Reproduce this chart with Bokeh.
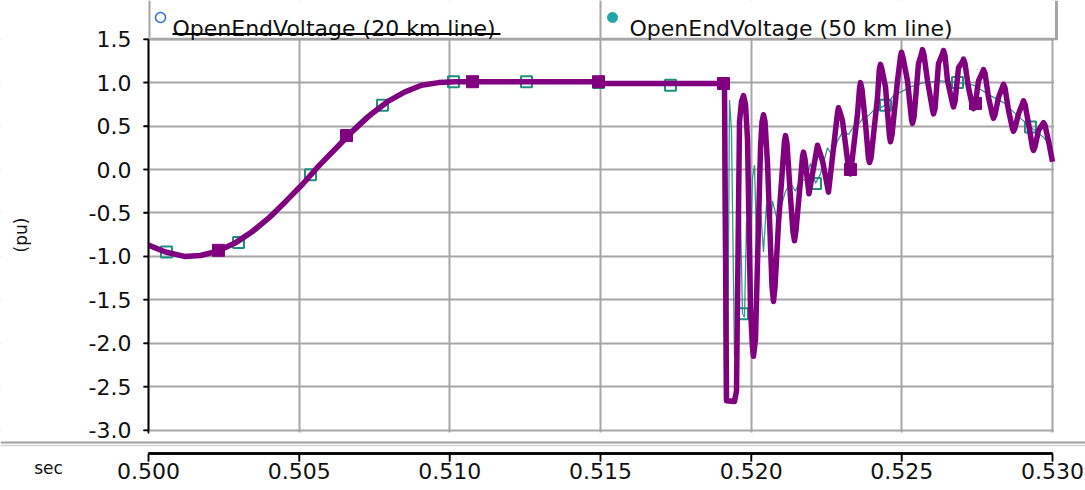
from bokeh.plotting import figure
from bokeh.models import Range1d, FixedTicker, PrintfTickFormatter
from bokeh.embed import file_html
from bokeh.resources import INLINE
from bokeh.core.properties import value

# ---------------- data (time in s, voltage in pu) ----------------
t_50km = [0.500000, 0.500564, 0.501195, 0.501726, 0.502290, 0.502854, 0.503418, 0.503982,
          0.504546, 0.505111, 0.505675, 0.506239, 0.506803, 0.507367, 0.507931, 0.508495,
          0.509059, 0.509623, 0.510187, 0.515000, 0.515066, 0.519049, 0.519115, 0.519182,
          0.519447, 0.519513, 0.519613, 0.519679, 0.519746, 0.519812, 0.519878, 0.519978,
          0.520044, 0.520077, 0.520144, 0.520310, 0.520360, 0.520409, 0.520459, 0.520542,
          0.520692, 0.520741, 0.520791, 0.520907, 0.521040, 0.521106, 0.521140, 0.521189,
          0.521305, 0.521388, 0.521438, 0.521488, 0.521637, 0.521704, 0.521737, 0.521786,
          0.521919, 0.522201, 0.522367, 0.522566, 0.522799, 0.522865, 0.522898, 0.522948,
          0.523031, 0.523230, 0.523297, 0.523529, 0.523595, 0.523628, 0.523678, 0.523794,
          0.523894, 0.523927, 0.523977, 0.524193, 0.524252, 0.524292, 0.524342, 0.524458,
          0.524591, 0.524624, 0.524674, 0.524856, 0.524956, 0.524989, 0.525039, 0.525188,
          0.525321, 0.525354, 0.525404, 0.525553, 0.525653, 0.525686, 0.525736, 0.525852,
          0.526018, 0.526051, 0.526101, 0.526217, 0.526350, 0.526383, 0.526433, 0.526516,
          0.526682, 0.526715, 0.526765, 0.526881, 0.527013, 0.527046, 0.527096, 0.527213,
          0.527346, 0.527378, 0.527428, 0.527544, 0.527677, 0.527710, 0.527760, 0.527876,
          0.528009, 0.528042, 0.528092, 0.528208, 0.528341, 0.528374, 0.528424, 0.528540,
          0.528673, 0.528706, 0.528756, 0.528872, 0.529005, 0.529038, 0.529088, 0.529204,
          0.529336, 0.529369, 0.529419, 0.529535, 0.529668, 0.529701, 0.529751, 0.529867,
          0.530000]
v_50km = [-0.87, -0.95, -1.00, -0.99, -0.94, -0.85, -0.72, -0.56,
          -0.37, -0.17, 0.05, 0.25, 0.45, 0.63, 0.78, 0.89,
          0.97, 1.00, 1.01, 1.01, 0.99, 0.99, 0.99, -2.66,
          -2.67, -2.55, 0.55, 0.78, 0.85, 0.75, 0.35, -1.60,
          -2.05, -2.15, -1.95, 0.25, 0.55, 0.63, 0.55, 0.07,
          -1.35, -1.52, -1.35, -0.62, 0.02, 0.33, 0.39, 0.30,
          -0.32, -0.72, -0.82, -0.70, -0.13, 0.15, 0.20, 0.12,
          -0.28, 0.28, 0.10, -0.26, 0.45, 0.65, 0.71, 0.66,
          0.56, 0.02, -0.05, 0.64, 0.93, 1.00, 0.92, 0.53,
          0.12, 0.08, 0.13, 0.83, 1.15, 1.21, 1.15, 0.95,
          0.38, 0.32, 0.40, 1.02, 1.30, 1.35, 1.29, 1.02,
          0.58, 0.53, 0.60, 1.22, 1.33, 1.38, 1.32, 1.02,
          0.69, 0.64, 0.70, 1.22, 1.33, 1.37, 1.31, 1.02,
          0.76, 0.72, 0.78, 1.17, 1.24, 1.27, 1.22, 0.94,
          0.73, 0.70, 0.73, 1.02, 1.12, 1.15, 1.11, 0.83,
          0.62, 0.59, 0.63, 0.83, 0.95, 0.98, 0.94, 0.68,
          0.47, 0.44, 0.48, 0.64, 0.76, 0.79, 0.75, 0.53,
          0.25, 0.22, 0.26, 0.45, 0.52, 0.54, 0.51, 0.33,
          0.09]

t_20km = [0.500000, 0.500600, 0.501200, 0.501800, 0.502400, 0.502990, 0.503590, 0.504190,
          0.504780, 0.505380, 0.505980, 0.506570, 0.507170, 0.507770, 0.508360, 0.508960,
          0.509560, 0.510120, 0.514930, 0.515000, 0.517000, 0.517320, 0.519049, 0.519115,
          0.519215, 0.519281, 0.519347, 0.519447, 0.519547, 0.519646, 0.519713, 0.519779,
          0.519845, 0.519945, 0.520044, 0.520111, 0.520210, 0.520310, 0.520409, 0.520509,
          0.520608, 0.520708, 0.520841, 0.520973, 0.521140, 0.521305, 0.521471, 0.521637,
          0.521803, 0.521969, 0.522135, 0.522301, 0.522534, 0.522700, 0.522865, 0.523064,
          0.523230, 0.523396, 0.523562, 0.523728, 0.523894, 0.524060, 0.524226, 0.524458,
          0.524723, 0.524956, 0.525288, 0.525719, 0.526283, 0.526847, 0.527378, 0.527942,
          0.528374, 0.528838, 0.529269, 0.529701, 0.530000]
v_20km = [-0.87, -0.95, -1.00, -0.99, -0.94, -0.85, -0.71, -0.53,
          -0.30, -0.06, 0.18, 0.41, 0.61, 0.76, 0.88, 0.96,
          1.00, 1.01, 1.01, 1.00, 1.00, 0.97, 0.97, -2.64,
          -2.64, 0.80, 0.45, -2.15, -1.95, -0.55, -1.66, -1.70,
          -0.60, -1.40, -0.10, 0.05, -1.25, -0.45, -0.95, -0.40,
          -0.85, -0.36, -0.55, -0.45, -0.25, -0.16, -0.25, -0.10,
          -0.13, 0.07, -0.16, -0.05, 0.25, 0.15, 0.33, 0.45,
          0.40, 0.49, 0.52, 0.60, 0.62, 0.68, 0.70, 0.74,
          0.85, 0.89, 0.95, 1.00, 1.02, 1.00, 0.97, 0.85,
          0.77, 0.62, 0.49, 0.37, 0.25]

# sample markers
mk_50km_t = [0.502323, 0.506571, 0.510752, 0.514934, 0.519082, 0.523296, 0.527444]
mk_50km_v = [-0.93, 0.39, 1.01, 1.01, 0.99, 0.00, 0.76]
mk_20km_t = [0.500597, 0.502987, 0.505376, 0.507765, 0.510122, 0.512544, 0.514934,
             0.517323, 0.519713, 0.522135, 0.524458, 0.526847, 0.529269]
mk_20km_v = [-0.95, -0.84, -0.06, 0.74, 1.01, 1.01, 1.00,
             0.97, -1.66, -0.16, 0.74, 1.00, 0.49]

x_ticks = [0.500, 0.505, 0.510, 0.515, 0.520, 0.525, 0.530]
y_ticks = [-3.0, -2.5, -2.0, -1.5, -1.0, -0.5, 0.0, 0.5, 1.0, 1.5]
legend_labels = ["OpenEndVoltage (20 km line)", "OpenEndVoltage (50 km line)"]
x_label = "sec"
y_label = "(pu)"

# ---------------- layout (canvas pixels) ----------------
FIG_W, FIG_H = 1085, 490
X0_PX, PX_PER_S = 148.0, 30133.3      # t = 0.5 s at x = 148
Y0_PX, PX_PER_PU = 169.0, 86.9        # v = 0 at y = 169
PLOT_L, PLOT_R, PLOT_T, PLOT_B = 148, 1053, 39, 432
AXIS_Y = 453


def t_at(px):
    return 0.5 + (px - X0_PX) / PX_PER_S


def v_at(py):
    return (Y0_PX - py) / PX_PER_PU


FONT = "DejaVu Sans"
PURPLE = "#800080"
TEAL = "#1E9080"
GRID = "#A6A6A6"
INK = "#111111"

# the frame fills the whole canvas; both axes are pinned with fixed_location
p = figure(width=FIG_W, height=FIG_H, output_backend="svg", toolbar_location=None,
           x_range=Range1d(t_at(0), t_at(FIG_W)),
           y_range=Range1d(v_at(FIG_H), v_at(0)),
           min_border_left=0, min_border_right=0, min_border_top=0, min_border_bottom=0)
p.outline_line_color = None
p.background_fill_color = "white"
p.border_fill_color = "white"

x_axis_v = v_at(AXIS_Y)
x_lo, x_hi = x_ticks[0], x_ticks[-1]
y_lo, y_hi = y_ticks[0], y_ticks[-1]

xa = p.xaxis[0]
xa.fixed_location = x_axis_v
xa.ticker = FixedTicker(ticks=x_ticks, minor_ticks=[])
xa.formatter = PrintfTickFormatter(format="%.3f")
xa.bounds = (x_lo, x_hi)
xa.axis_line_color = "black"
xa.axis_line_width = 2.5
xa.major_tick_out = 8
xa.major_tick_in = 0
xa.major_tick_line_color = "black"
xa.major_tick_line_width = 1.5
xa.minor_tick_line_color = None
xa.major_label_standoff = 1
xa.major_label_text_font = FONT
xa.major_label_text_font_size = "22px"
xa.major_label_text_color = INK

ya = p.yaxis[0]
ya.fixed_location = x_lo
ya.ticker = FixedTicker(ticks=y_ticks, minor_ticks=[])
ya.formatter = PrintfTickFormatter(format="%.1f")
ya.bounds = (y_lo, y_hi)
ya.axis_line_color = "black"
ya.axis_line_width = 1.5
ya.major_tick_out = 5
ya.major_tick_in = 0
ya.major_tick_line_color = "black"
ya.major_tick_line_width = 1.5
ya.minor_tick_line_color = None
ya.major_label_standoff = 12
ya.major_label_text_font = FONT
ya.major_label_text_font_size = "22px"
ya.major_label_text_color = INK
ya.axis_label = y_label
ya.axis_label_text_font = FONT
ya.axis_label_text_font_size = "17px"
ya.axis_label_text_font_style = "normal"
ya.axis_label_text_color = INK
ya.axis_label_standoff = 55

p.xgrid.ticker = xa.ticker
p.ygrid.ticker = ya.ticker
p.xgrid.grid_line_color = GRID
p.xgrid.grid_line_width = 2
p.ygrid.grid_line_color = GRID
p.ygrid.grid_line_width = 2

# white covers so the grid only shows inside the plotting area
p.quad(left=[t_at(0), t_at(PLOT_R + 0.5), t_at(PLOT_L - 1.5), t_at(0)],
       right=[t_at(PLOT_L - 1.5), t_at(FIG_W), t_at(PLOT_R + 0.5), t_at(FIG_W)],
       top=[v_at(0), v_at(0), v_at(0), v_at(PLOT_B)],
       bottom=[v_at(FIG_H), v_at(FIG_H), v_at(PLOT_T - 1.5), v_at(FIG_H)],
       fill_color="white", line_color=None)

# axis rules and tick marks, also drawn as glyphs at the tick values
p.line(x=[x_lo, x_hi], y=[x_axis_v, x_axis_v], line_color="black", line_width=2.5)
p.segment(x0=x_ticks, y0=[x_axis_v] * len(x_ticks), x1=x_ticks,
          y1=[v_at(AXIS_Y + 8)] * len(x_ticks), line_color="black", line_width=1.5)
p.line(x=[x_lo, x_lo], y=[v_at(PLOT_B + 1), y_hi], line_color="black", line_width=1.5)
p.segment(x0=[t_at(PLOT_L - 5)] * len(y_ticks), y0=y_ticks, x1=[x_lo] * len(y_ticks),
          y1=y_ticks, line_color="black", line_width=1.5)

# data
p.line(t_20km, v_20km, line_color=TEAL, line_width=1.3, line_alpha=0.9)
p.scatter(mk_20km_t, mk_20km_v, marker="square", size=11, fill_color=None,
          line_color=TEAL, line_width=2)
p.line(t_50km, v_50km, line_color=PURPLE, line_width=5.5, line_join="round")
p.scatter(mk_50km_t, mk_50km_v, marker="square", size=12, fill_color=PURPLE,
          line_color=PURPLE)

# legend box
p.segment(x0=[t_at(149), t_at(600), t_at(1056), t_at(150)],
          y0=[v_at(0), v_at(0), v_at(0), v_at(38.5)],
          x1=[t_at(149), t_at(600), t_at(1056), t_at(1057.5)],
          y1=[v_at(38), v_at(39), v_at(39), v_at(38.5)],
          line_color=GRID, line_width=[2, 2, 3, 2.5])
p.scatter([t_at(160)], [v_at(17)], marker="circle", size=10, fill_color=None,
          line_color="#2F6FD6", line_width=1.5)
p.scatter([t_at(612)], [v_at(17)], marker="circle", size=10, fill_color="#1FA5A8",
          line_color="#1FA5A8")
p.text(x=[t_at(172), t_at(629)], y=[v_at(28), v_at(28)], text=legend_labels,
       text_font=value(FONT), text_font_size="22px", text_color=INK,
       text_baseline="alphabetic", text_align="left")
p.segment(x0=[t_at(172)], y0=[v_at(33.5)], x1=[t_at(500)], y1=[v_at(33.5)],
          line_color="black", line_width=2)

# double separator above the time axis, across the whole width
p.segment(x0=[t_at(0), t_at(0)], y0=[v_at(442), v_at(445)],
          x1=[t_at(FIG_W), t_at(FIG_W)], y1=[v_at(442), v_at(445)],
          line_color=["#A0A0A0", "#D4D4D4"], line_width=[2.2, 1.5])

# time-axis caption at the left of the tick labels
p.text(x=[t_at(48)], y=[v_at(467)], text=[x_label], text_font=value(FONT),
       text_font_size="17px", text_color=INK, text_align="center", text_baseline="middle")

open("out.html", "w").write(file_html(p, INLINE))
